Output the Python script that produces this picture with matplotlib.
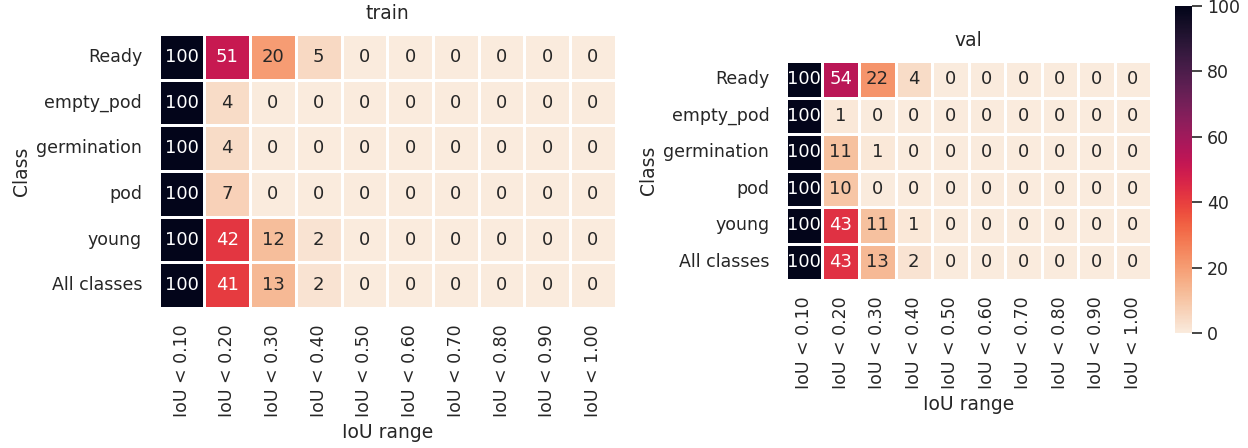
import matplotlib
matplotlib.use("Agg")
import matplotlib.pyplot as plt
import numpy as np
import pandas as pd
import seaborn as sns

classes = ["Ready", "empty_pod", "germination", "pod", "young", "All classes"]
iou_labels = ["IoU < 0.10", "IoU < 0.20", "IoU < 0.30", "IoU < 0.40", "IoU < 0.50",
              "IoU < 0.60", "IoU < 0.70", "IoU < 0.80", "IoU < 0.90", "IoU < 1.00"]

train_ready = [100, 51, 20, 5, 0, 0, 0, 0, 0, 0]
train_empty_pod = [100, 4, 0, 0, 0, 0, 0, 0, 0, 0]
train_germination = [100, 4, 0, 0, 0, 0, 0, 0, 0, 0]
train_pod = [100, 7, 0, 0, 0, 0, 0, 0, 0, 0]
train_young = [100, 42, 12, 2, 0, 0, 0, 0, 0, 0]
train_all = [100, 41, 13, 2, 0, 0, 0, 0, 0, 0]

val_ready = [100, 54, 22, 4, 0, 0, 0, 0, 0, 0]
val_empty_pod = [100, 1, 0, 0, 0, 0, 0, 0, 0, 0]
val_germination = [100, 11, 1, 0, 0, 0, 0, 0, 0, 0]
val_pod = [100, 10, 0, 0, 0, 0, 0, 0, 0, 0]
val_young = [100, 43, 11, 1, 0, 0, 0, 0, 0, 0]
val_all = [100, 43, 13, 2, 0, 0, 0, 0, 0, 0]

sns.set_theme(style="white")
plt.rcParams['font.family'] = ['DejaVu Sans']

train_df = pd.DataFrame([train_ready, train_empty_pod, train_germination, train_pod,
                         train_young, train_all], index=classes, columns=iou_labels)
val_df = pd.DataFrame([val_ready, val_empty_pod, val_germination, val_pod,
                       val_young, val_all], index=classes, columns=iou_labels)

fig = plt.figure(figsize=(12.48, 4.48), dpi=100)
ax1 = fig.add_axes([0.1272, 0.3125, 0.3662, 0.6116])
ax2 = fig.add_axes([0.6298, 0.375, 0.2925, 0.4888])
cax = fig.add_axes([0.9415, 0.2567, 0.0136, 0.730])

sns.heatmap(train_df, ax=ax1, cmap="rocket_r", vmin=0, vmax=100, annot=True, fmt="d",
            linewidths=0.8, linecolor="white", cbar=False, annot_kws={"size": 13})
sns.heatmap(val_df, ax=ax2, cmap="rocket_r", vmin=0, vmax=100, annot=True, fmt="d",
            linewidths=0.8, linecolor="white", cbar_ax=cax, annot_kws={"size": 13})

for ax, title in [(ax1, "train"), (ax2, "val")]:
    ax.set_title(title, fontsize=13.5, color=".15", pad=11)
    ax.set_xlabel("IoU range", fontsize=13.5, color=".15")
    ax.set_ylabel("Class", fontsize=13.5, color=".15")
    ax.tick_params(axis="both", length=0, pad=12, labelsize=12.5, colors=".15")
    ax.set_xticklabels(iou_labels, rotation=90)
    ax.set_yticklabels(classes, rotation=0)

cax.tick_params(length=7, width=1.2, pad=4, labelsize=12.5, colors=".15")
cax.set_yticks([0, 20, 40, 60, 80, 100])
for s in cax.spines.values():
    s.set_visible(False)

fig.savefig("out.png", dpi=100)
